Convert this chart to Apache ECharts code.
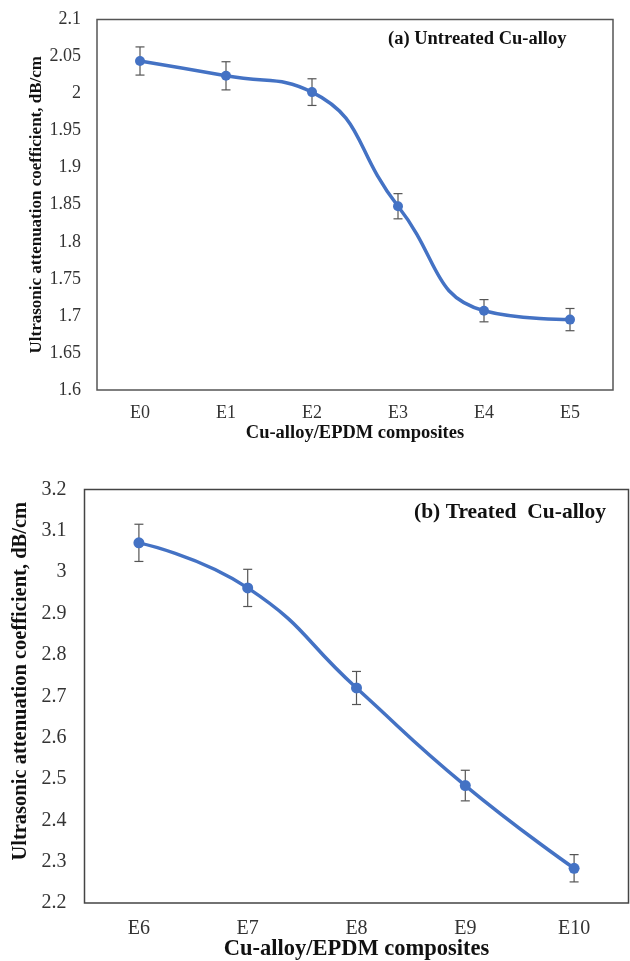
<!DOCTYPE html>
<html>
<head>
<meta charset="utf-8">
<script src="https://cdn.jsdelivr.net/npm/echarts@6/dist/echarts.min.js"></script>
<style>
html,body{margin:0;padding:0;background:#fff;}
#c{width:630px;height:961px;}
</style>
</head>
<body>
<div id="c"></div>
<script>
// Panel (a): untreated Cu-alloy
var catsA = ['E0', 'E1', 'E2', 'E3', 'E4', 'E5'];
var valsA = [2.044, 2.024, 2.002, 1.848, 1.707, 1.695];
var errA = [0.019, 0.019, 0.018, 0.017, 0.015, 0.015];
var yTicksA = {min: 1.6, max: 2.1, interval: 0.05};

// Panel (b): treated Cu-alloy
var catsB = ['E6', 'E7', 'E8', 'E9', 'E10'];
var valsB = [3.071, 2.962, 2.720, 2.484, 2.284];
var errB = [0.045, 0.045, 0.040, 0.037, 0.033];
var yTicksB = {min: 2.2, max: 3.2, interval: 0.1};

var titleA = '(a) Untreated Cu-alloy';
var titleB = '(b) Treated  Cu-alloy';
var xName = 'Cu-alloy/EPDM composites';
var yName = 'Ultrasonic attenuation coefficient, dB/cm';

var FONT = '"Liberation Serif", "Times New Roman", serif';
var BLUE = '#4472C4';

function errData(vals, errs) {
  return vals.map(function (v, i) { return [i, v - errs[i], v + errs[i]]; });
}
function errRender(params, api) {
  var x = api.value(0);
  var lo = api.coord([x, api.value(1)]);
  var hi = api.coord([x, api.value(2)]);
  var cw = 4.5;
  var st = {stroke: '#555', lineWidth: 1.2};
  return {
    type: 'group',
    children: [
      {type: 'line', shape: {x1: lo[0], y1: lo[1], x2: hi[0], y2: hi[1]}, style: st},
      {type: 'line', shape: {x1: lo[0] - cw, y1: lo[1], x2: lo[0] + cw, y2: lo[1]}, style: st},
      {type: 'line', shape: {x1: hi[0] - cw, y1: hi[1], x2: hi[0] + cw, y2: hi[1]}, style: st}
    ]
  };
}
function fmt(v) { return String(parseFloat(v.toFixed(2))); }

var chart = echarts.init(document.getElementById('c'), null, {renderer: 'canvas'});
chart.setOption({
  animation: false,
  backgroundColor: '#fff',
  title: [
    {text: titleA, left: 383, top: 25, textStyle: {fontFamily: FONT, fontSize: 18.5, fontWeight: 'bold', color: '#111'}},
    {text: titleB, left: 409, top: 496, textStyle: {fontFamily: FONT, fontSize: 21.5, fontWeight: 'bold', color: '#111'}}
  ],
  grid: [
    {left: 97, top: 19.5, width: 516, height: 370.5, show: true, borderColor: '#555', borderWidth: 1.5,
     backgroundColor: 'transparent', outerBoundsMode: 'none', containLabel: false},
    {left: 84.5, top: 489.5, width: 544, height: 413.5, show: true, borderColor: '#444', borderWidth: 1.5,
     backgroundColor: 'transparent', outerBoundsMode: 'none', containLabel: false}
  ],
  xAxis: [
    {type: 'category', gridIndex: 0, data: catsA, boundaryGap: true,
     axisLine: {show: false}, axisTick: {show: false}, splitLine: {show: false},
     axisLabel: {fontFamily: FONT, fontSize: 18, color: '#333', margin: 14},
     name: xName, nameLocation: 'middle', nameGap: 34, nameMoveOverlap: false,
     nameTextStyle: {fontFamily: FONT, fontSize: 18.5, fontWeight: 'bold', color: '#111'}},
    {type: 'category', gridIndex: 1, data: catsB, boundaryGap: true,
     axisLine: {show: false}, axisTick: {show: false}, splitLine: {show: false},
     axisLabel: {fontFamily: FONT, fontSize: 20, color: '#333', margin: 16},
     name: xName, nameLocation: 'middle', nameGap: 35, nameMoveOverlap: false,
     nameTextStyle: {fontFamily: FONT, fontSize: 22.5, fontWeight: 'bold', color: '#111'}}
  ],
  yAxis: [
    {type: 'value', gridIndex: 0, min: yTicksA.min, max: yTicksA.max, interval: yTicksA.interval,
     axisLine: {show: false}, axisTick: {show: false}, splitLine: {show: false},
     axisLabel: {fontFamily: FONT, fontSize: 18, color: '#333', margin: 16, formatter: fmt},
     name: yName, nameLocation: 'middle', nameGap: 52, nameMoveOverlap: false,
     nameTextStyle: {fontFamily: FONT, fontSize: 17, fontWeight: 'bold', color: '#111'}},
    {type: 'value', gridIndex: 1, min: yTicksB.min, max: yTicksB.max, interval: yTicksB.interval,
     axisLine: {show: false}, axisTick: {show: false}, splitLine: {show: false},
     axisLabel: {fontFamily: FONT, fontSize: 20, color: '#333', margin: 18, formatter: fmt},
     name: yName, nameLocation: 'middle', nameGap: 53, nameMoveOverlap: false,
     nameTextStyle: {fontFamily: FONT, fontSize: 20.5, fontWeight: 'bold', color: '#111', padding: [0, 0, 0, 30]}}
  ],
  series: [
    {type: 'custom', xAxisIndex: 0, yAxisIndex: 0, renderItem: errRender, data: errData(valsA, errA), z: 1},
    {type: 'line', xAxisIndex: 0, yAxisIndex: 0, data: valsA, smooth: 0.5,
     symbol: 'circle', symbolSize: 10, lineStyle: {color: BLUE, width: 3.5},
     itemStyle: {color: BLUE}, z: 3},
    {type: 'custom', xAxisIndex: 1, yAxisIndex: 1, renderItem: errRender, data: errData(valsB, errB), z: 1},
    {type: 'line', xAxisIndex: 1, yAxisIndex: 1, data: valsB, smooth: 0.5,
     symbol: 'circle', symbolSize: 11, lineStyle: {color: BLUE, width: 3.5},
     itemStyle: {color: BLUE}, z: 3}
  ]
});
</script>
</body>
</html>
